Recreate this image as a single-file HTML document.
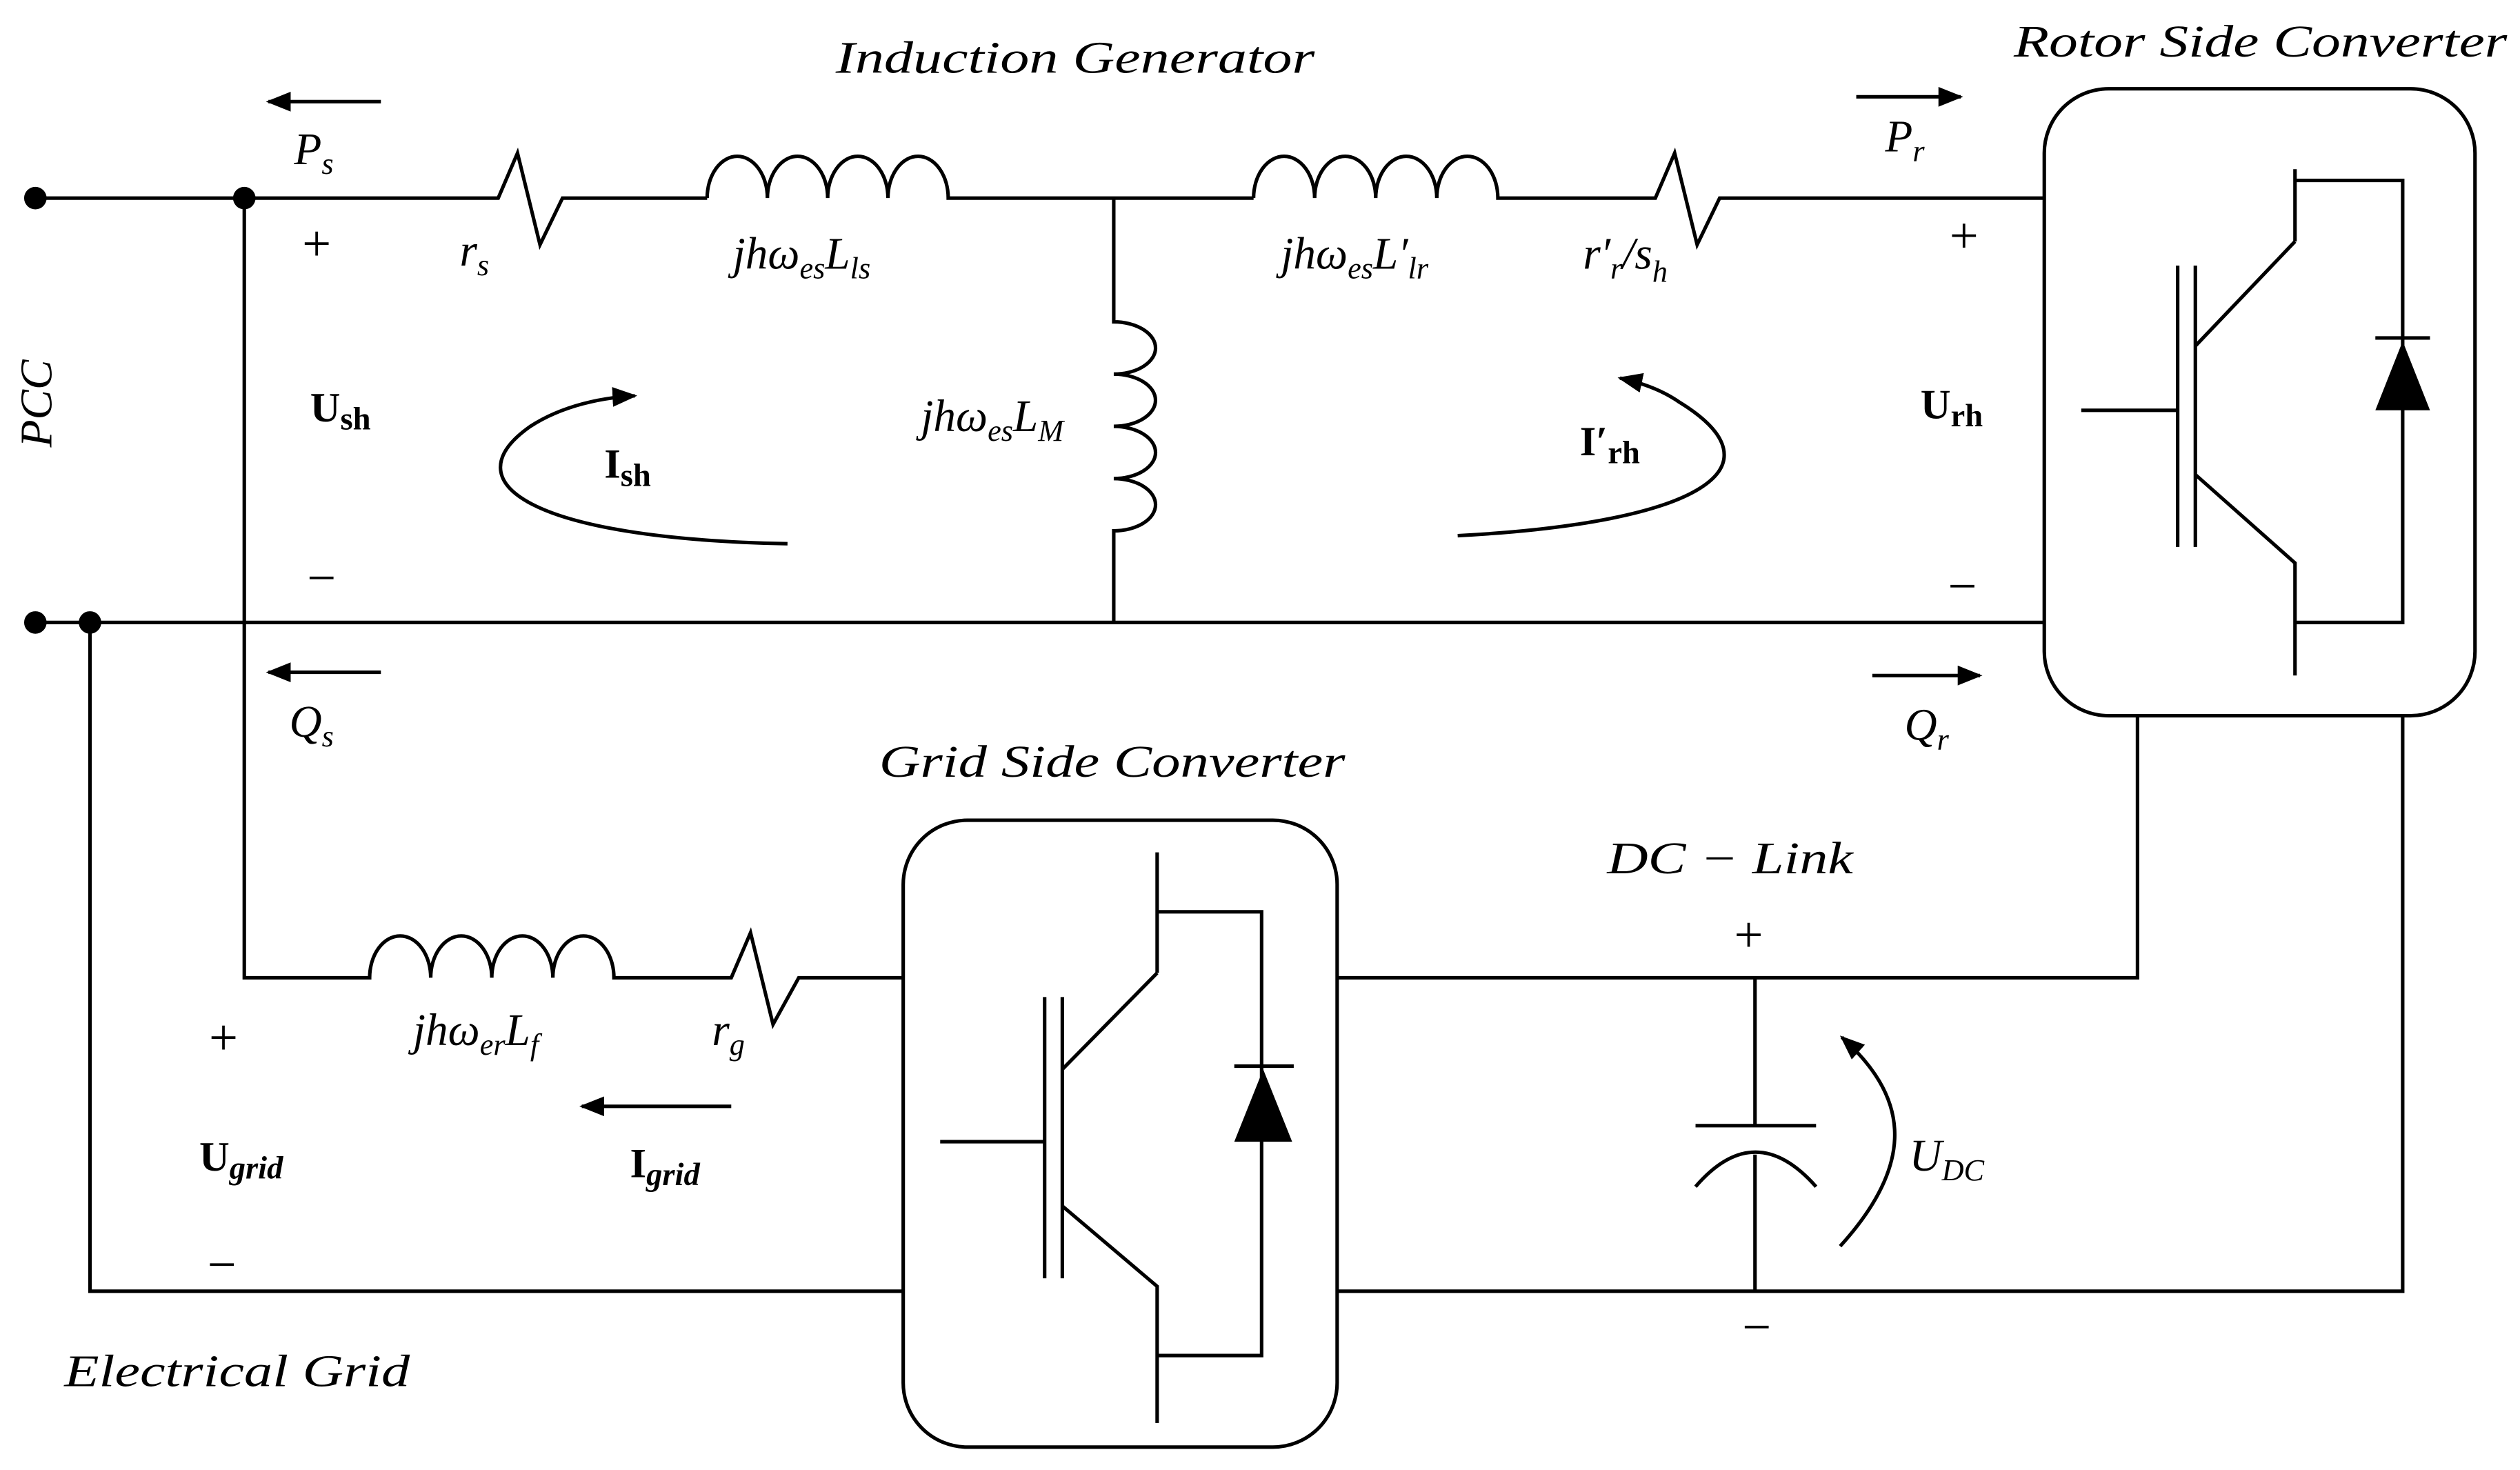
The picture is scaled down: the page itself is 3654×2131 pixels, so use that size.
<!DOCTYPE html>
<html><head><meta charset="utf-8"><style>
html,body{margin:0;padding:0;background:#fff;}
svg{display:block;}
text{font-family:"Liberation Serif",serif;fill:#000;}
.i{font-style:italic;font-size:28px;}
.b{font-weight:bold;font-size:26px;}
</style></head><body>
<svg width="3654" height="2131" viewBox="0 0 1568 914" xmlns="http://www.w3.org/2000/svg">
<defs><marker id="a" viewBox="0 0 10 10" refX="9" refY="5" markerWidth="7" markerHeight="7" orient="auto"><path d="M0,1 L10,5 L0,9 z" fill="#000"/></marker></defs>
<g stroke="#000" stroke-width="2.2" fill="none">
<path d="M22,123 H310 L322,95 L336,152 L350,123 H440"/>
<path d="M440,123 a18.75,26 0 0 1 37.5,0 a18.75,26 0 0 1 37.5,0 a18.75,26 0 0 1 37.5,0 a18.75,26 0 0 1 37.5,0 H780"/>
<path d="M780,123 a19,26 0 0 1 38,0 a19,26 0 0 1 38,0 a19,26 0 0 1 38,0 a19,26 0 0 1 38,0 H1030 L1042,95 L1056,152 L1070,123 H1272"/>
<path d="M22,387 H1272"/>
<path d="M693,123 V200 a26,16.25 0 0 1 0,32.5 a26,16.25 0 0 1 0,32.5 a26,16.25 0 0 1 0,32.5 a26,16.25 0 0 1 0,32.5 V387"/>
<path d="M152,123 V608 H230 a19,26 0 0 1 38,0 a19,26 0 0 1 38,0 a19,26 0 0 1 38,0 a19,26 0 0 1 38,0 H455 L467,580 L481,637 L497,608 H562"/>
<path d="M56,387 V803 H562"/>
<rect x="562" y="510" width="270" height="390" rx="40"/>
<rect x="1272" y="55" width="268" height="390" rx="40"/>
<path d="M832,608 H1330 V445"/>
<path d="M832,803 H1495 V445"/>
<path d="M1092,608 V700 M1055,700 H1130 M1055,738 Q1092,695 1130,738 M1092,718 V803"/>
<path d="M1295,255 H1355 M1355,165 V340 M1366,165 V340 M1366,215 L1428,150 M1428,105 V150 M1428,112 H1495 V387 H1428 M1366,295 L1428,350 V420 M1428,350 V387 M1478,210 H1512"/>
<path d="M585,710 H650 M650,620 V795 M661,620 V795 M661,665 L720,605 M720,530 V605 M720,567 H785 V843 H720 M661,750 L720,800 V885 M720,800 V843 M768,663 H805"/>
<path d="M237,63 H167" marker-end="url(#a)"/>
<path d="M1155,60 H1220" marker-end="url(#a)"/>
<path d="M237,418 H167" marker-end="url(#a)"/>
<path d="M1165,420 H1232" marker-end="url(#a)"/>
<path d="M455,688 H362" marker-end="url(#a)"/>
<path d="M490,338 C330,335 280,300 330,265 C350,252 375,247 395,246" marker-end="url(#a)"/>
<path d="M907,333 C1060,325 1110,290 1045,250 C1035,243 1022,238 1008,235" marker-end="url(#a)"/>
<path d="M1145,775 C1195,720 1185,680 1146,645" marker-end="url(#a)"/>
</g>
<path d="M1478,255 L1495,212 L1512,255 Z" fill="#000"/>
<path d="M768,710 L786,665 L804,710 Z" fill="#000"/>
<g fill="#000"><circle cx="22" cy="123" r="7"/><circle cx="152" cy="123" r="7"/><circle cx="22" cy="387" r="7"/><circle cx="56" cy="387" r="7"/></g>
<text class="i" x="520" y="45" textLength="298" lengthAdjust="spacingAndGlyphs">Induction Generator</text>
<text class="i" x="1253" y="35" textLength="307" lengthAdjust="spacingAndGlyphs">Rotor Side Converter</text>
<text class="i" x="547" y="483" textLength="290" lengthAdjust="spacingAndGlyphs">Grid Side Converter</text>
<text class="i" x="1000" y="543" textLength="153" lengthAdjust="spacingAndGlyphs">DC  − Link</text>
<text class="i" x="40" y="862" textLength="215" lengthAdjust="spacingAndGlyphs">Electrical Grid</text>
<text class="i" transform="translate(32,278) rotate(-90)">PCC</text>
<text class="i" x="183" y="102">P<tspan font-size="19" dy="6">s</tspan></text>
<text class="i" x="1173" y="94">P<tspan font-size="19" dy="6">r</tspan></text>
<text class="i" x="180" y="458">Q<tspan font-size="19" dy="6">s</tspan></text>
<text class="i" x="1185" y="460">Q<tspan font-size="19" dy="6">r</tspan></text>
<text class="i" x="286" y="165">r<tspan font-size="19" dy="6">s</tspan></text>
<text class="i" x="456" y="167">jhω<tspan font-size="19" dy="6">es</tspan><tspan dy="-6">L</tspan><tspan font-size="19" dy="6">ls</tspan></text>
<text class="i" x="797" y="167">jhω<tspan font-size="19" dy="6">es</tspan><tspan dy="-6">L′</tspan><tspan font-size="19" dy="6">lr</tspan></text>
<text class="i" x="985" y="167">r′<tspan font-size="19" dy="6">r</tspan><tspan dy="-6">/s</tspan><tspan font-size="19" dy="8">h</tspan></text>
<text class="i" x="573" y="268">jhω<tspan font-size="19" dy="6">es</tspan><tspan dy="-6">L</tspan><tspan font-size="19" dy="6">M</tspan></text>
<text class="i" x="257" y="650">jhω<tspan font-size="19" dy="6">er</tspan><tspan dy="-6">L</tspan><tspan font-size="19" dy="6">f</tspan></text>
<text class="i" x="443" y="650">r<tspan font-size="19" dy="6">g</tspan></text>
<text class="i" x="1188" y="728">U<tspan font-size="19" dy="6">DC</tspan></text>
<text class="b" x="193" y="262">U<tspan font-size="20" dy="5">sh</tspan></text>
<text class="b" x="376" y="297">I<tspan font-size="20" dy="5">sh</tspan></text>
<text class="b" x="1195" y="260">U<tspan font-size="20" dy="5">rh</tspan></text>
<text class="b" x="983" y="283">I′<tspan font-size="20" dy="5">rh</tspan></text>
<text class="b" x="124" y="728">U<tspan font-size="20" dy="5" font-style="italic">grid</tspan></text>
<text class="b" x="392" y="732">I<tspan font-size="20" dy="5" font-style="italic">grid</tspan></text>
<g font-size="32"><text x="188" y="162">+</text><text x="1213" y="157">+</text><text x="130" y="656">+</text><text x="1079" y="592">+</text>
<text x="191" y="370">−</text><text x="1212" y="375">−</text><text x="129" y="797">−</text><text x="1084" y="836">−</text></g>
</svg>
</body></html>
